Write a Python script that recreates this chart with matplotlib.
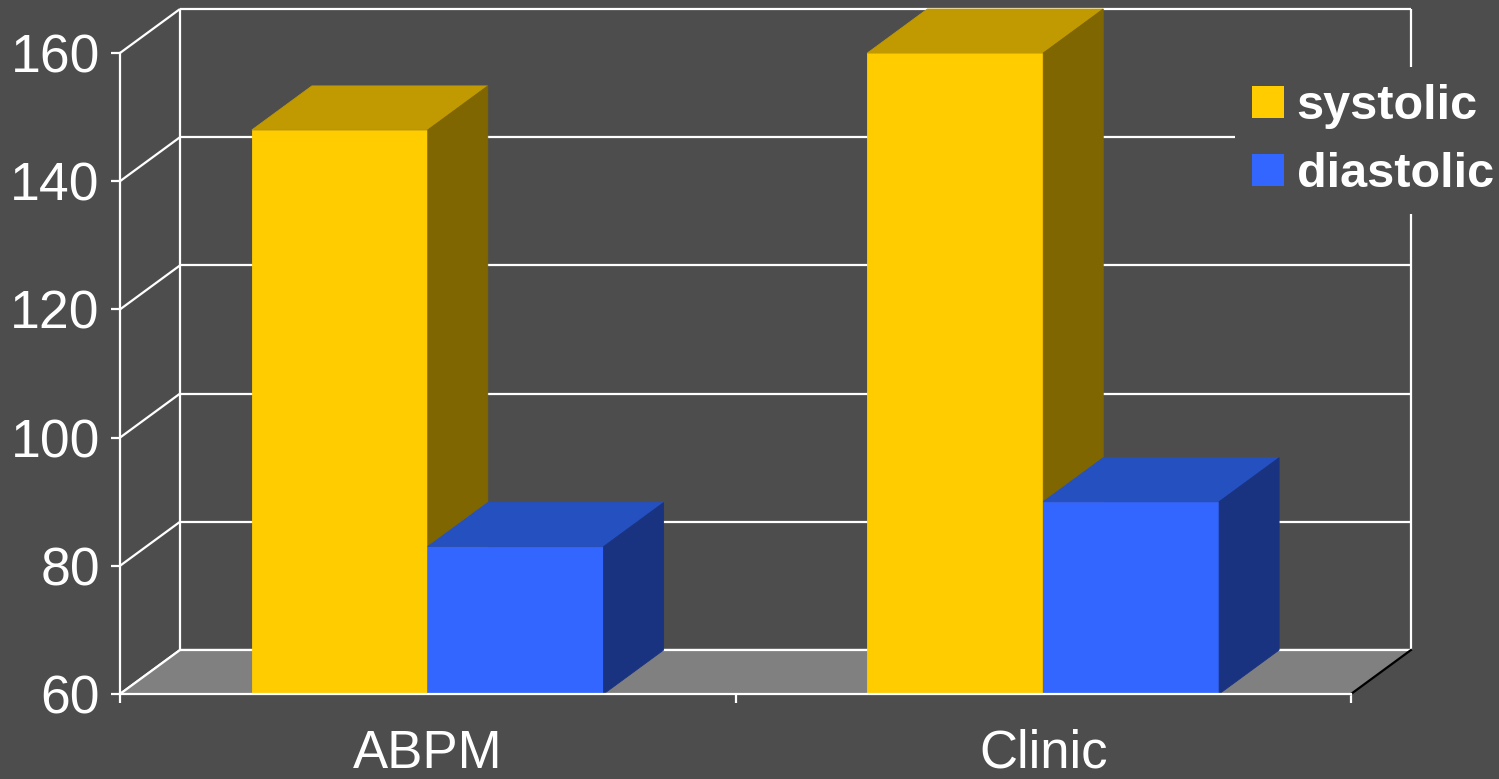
import matplotlib.pyplot as plt
from matplotlib.patches import Polygon, Patch

plt.rcParams['font.family'] = ['Liberation Sans', 'DejaVu Sans']

categories = ['ABPM', 'Clinic']
series = ['systolic', 'diastolic']
systolic = [148, 160]
diastolic = [83, 90]
yticks = [60, 80, 100, 120, 140, 160]

# face colours: front, top, side
yellow = ('#ffcc00', '#c09a00', '#806600')
blue = ('#3366ff', '#2550c0', '#1a3380')

BG = '#4d4d4d'
W, H = 1499, 779
fig = plt.figure(figsize=(W / 100, H / 100), dpi=100, facecolor=BG)
ax = fig.add_axes([120 / W, (H - 694) / H, 1231 / W, 641 / H])
ax.set_facecolor('none')
ax.set_xlim(0, 2)
ax.set_ylim(60, 160)

# depth offset of the back wall, in data units
dx = 60 / 1231 * 2
dy = 44 / 641 * 100
y0 = yticks[0]
ytop = yticks[-1]

line = dict(color='white', lw=1.6, clip_on=False, solid_capstyle='butt')

# back wall gridlines and side-wall diagonals
for v in yticks:
    ax.plot([dx, 2 + dx], [v + dy, v + dy], zorder=1, **line)
    ax.plot([0, dx], [v, v + dy], zorder=1, **line)
ax.plot([dx, dx], [y0 + dy, ytop + dy], zorder=1, **line)
ax.plot([2 + dx, 2 + dx], [y0 + dy, ytop + dy], zorder=1, **line)

# floor
ax.add_patch(Polygon([(0, y0), (2, y0), (2 + dx, y0 + dy), (dx, y0 + dy)],
                     closed=True, fc='#808080', ec='none', zorder=1.5, clip_on=False))
ax.plot([dx, 2 + dx], [y0 + dy, y0 + dy], zorder=1.6, **line)
ax.plot([0, dx], [y0, y0 + dy], zorder=1.6, **line)
ax.plot([2, 2 + dx], [y0, y0 + dy], color='black', lw=1.6, zorder=1.6, clip_on=False)


def bar3d(x0, w, v, cols, z):
    front, top, side = cols
    kw = dict(closed=True, lw=0.6, clip_on=False, zorder=z)
    ax.add_patch(Polygon([(x0, y0), (x0 + w, y0), (x0 + w, v), (x0, v)],
                         fc=front, ec=front, **kw))
    ax.add_patch(Polygon([(x0, v), (x0 + w, v), (x0 + w + dx, v + dy), (x0 + dx, v + dy)],
                         fc=top, ec=top, **kw))
    ax.add_patch(Polygon([(x0 + w, y0), (x0 + w + dx, y0 + dy), (x0 + w + dx, v + dy), (x0 + w, v)],
                         fc=side, ec=side, **kw))


bw = 1 / 3.5  # gap width 150%
z = 2
for i in range(len(categories)):
    c = i + 0.5
    bar3d(c - bw, bw, systolic[i], yellow, z)
    bar3d(c, bw, diastolic[i], blue, z + 0.1)
    z += 0.2

# front axes
for s in ['top', 'right']:
    ax.spines[s].set_visible(False)
for s in ['left', 'bottom']:
    ax.spines[s].set_color('white')
    ax.spines[s].set_linewidth(1.6)
    ax.spines[s].set_zorder(3)

ax.set_yticks(yticks)
ax.set_yticklabels([str(v) for v in yticks])
ax.tick_params(axis='y', colors='white', length=6.5, width=1.6, pad=8, labelsize=38.5)

ax.set_xticks([0, 1, 2])
ax.set_xticklabels([])
ax.set_xticks([0.5, 1.5], minor=True)
ax.set_xticklabels(categories, minor=True)
ax.tick_params(axis='x', which='major', colors='white', length=6.5, width=1.6)
ax.tick_params(axis='x', which='minor', colors='white', length=0, pad=25, labelsize=38)

# legend sits on an opaque box that hides the wall lines behind it
handles = [Patch(fc=yellow[0], ec='none'), Patch(fc=blue[0], ec='none')]
leg = ax.legend(handles, series, loc='upper left', bbox_to_anchor=(1235 / W, 1 - 67 / H),
                bbox_transform=fig.transFigure, frameon=True, facecolor=BG, edgecolor='none',
                framealpha=1, fancybox=False, labelcolor='white',
                prop=dict(weight='bold', size=35), handlelength=0.65, handleheight=0.65,
                handletextpad=0.27, labelspacing=0.48, borderpad=0.35, borderaxespad=0)
leg.set_zorder(5)

fig.savefig('out.png', dpi=100, facecolor=BG)
